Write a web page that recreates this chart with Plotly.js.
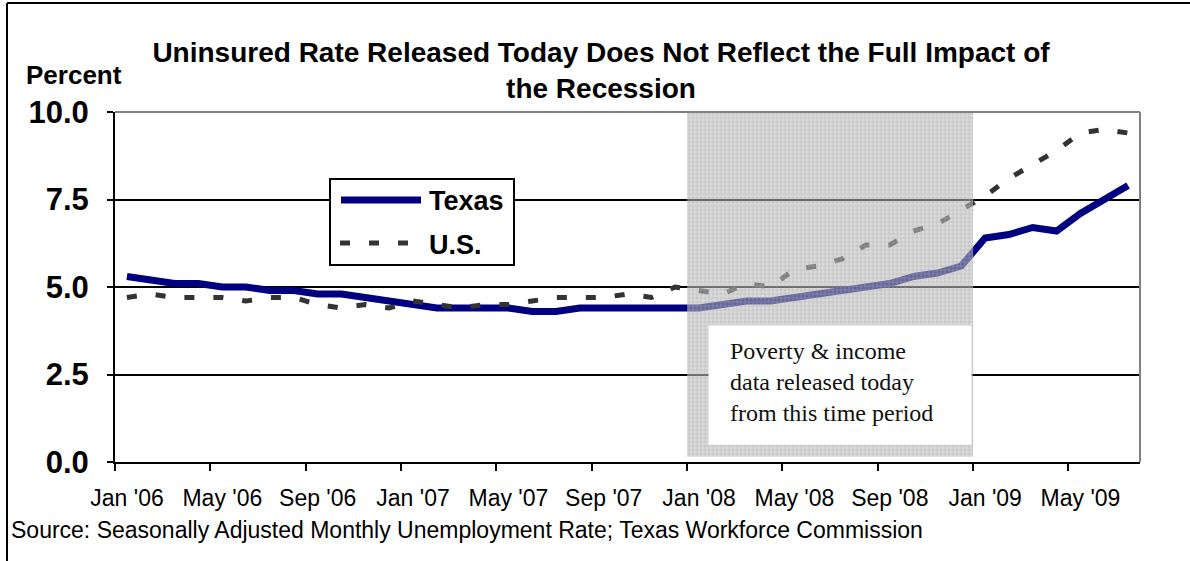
<!DOCTYPE html>
<html>
<head>
<meta charset="utf-8">
<script src="https://cdn.plot.ly/plotly-3.0.1.min.js"></script>
<style>
  html, body { margin: 0; padding: 0; background: #ffffff; }
  #chart { width: 1190px; height: 561px; }
</style>
</head>
<body>
<div id="chart"></div>
<script>
// Monthly categories, Jan 2006 through Jul 2009
const months = [
  "Jan '06", "Feb '06", "Mar '06", "Apr '06", "May '06", "Jun '06",
  "Jul '06", "Aug '06", "Sep '06", "Oct '06", "Nov '06", "Dec '06",
  "Jan '07", "Feb '07", "Mar '07", "Apr '07", "May '07", "Jun '07",
  "Jul '07", "Aug '07", "Sep '07", "Oct '07", "Nov '07", "Dec '07",
  "Jan '08", "Feb '08", "Mar '08", "Apr '08", "May '08", "Jun '08",
  "Jul '08", "Aug '08", "Sep '08", "Oct '08", "Nov '08", "Dec '08",
  "Jan '09", "Feb '09", "Mar '09", "Apr '09", "May '09", "Jun '09",
  "Jul '09"
];

// Seasonally adjusted unemployment rate, percent
const texasRate = [
  5.3, 5.2, 5.1, 5.1, 5.0, 5.0, 4.9, 4.9, 4.8, 4.8, 4.7, 4.6,
  4.5, 4.4, 4.4, 4.4, 4.4, 4.3, 4.3, 4.4, 4.4, 4.4, 4.4, 4.4,
  4.4, 4.5, 4.6, 4.6, 4.7, 4.8, 4.9, 5.0, 5.1, 5.3, 5.4, 5.6,
  6.4, 6.5, 6.7, 6.6, 7.1, 7.5, 7.9
];
const usRate = [
  4.7, 4.8, 4.7, 4.7, 4.7, 4.6, 4.7, 4.7, 4.5, 4.4, 4.5, 4.4,
  4.6, 4.5, 4.4, 4.5, 4.5, 4.6, 4.7, 4.7, 4.7, 4.8, 4.7, 5.0,
  4.9, 4.8, 5.1, 5.0, 5.5, 5.6, 5.8, 6.2, 6.2, 6.6, 6.8, 7.2,
  7.6, 8.1, 8.5, 8.9, 9.4, 9.5, 9.4
];

const seriesNames = ["Texas", "U.S."];
const xTickLabels = ["Jan '06", "May '06", "Sep '06", "Jan '07", "May '07", "Sep '07",
                     "Jan '08", "May '08", "Sep '08", "Jan '09", "May '09"];
const yTickValues = [0, 2.5, 5.0, 7.5, 10.0];

// Period covered by the newly released poverty & income data
const highlightMonths = ["Jan '08", "Dec '08"];
const noteLines = ["Poverty & income", "data released today", "from this time period"];

const chartTitle = ["Uninsured Rate Released Today Does Not Reflect the Full Impact of", "the Recession"];
const yLabel = "Percent";
const sourceNote = "Source: Seasonally Adjusted Monthly Unemployment Rate; Texas Workforce Commission";

// ---- geometry of the plotting area (pixels) ----
const W = 1190, H = 561;
const L = 115, R = 1140, T = 112, B = 462;
const px2x = p => (p - L) / (R - L);   // pixel -> paper x
const py2y = p => (B - p) / (B - T);   // pixel -> paper y

const SANS = "Liberation Sans, Arial, Helvetica, sans-serif";
const SERIF = "Liberation Serif, Times New Roman, serif";

const idx = months.map((m, i) => i);
const texasStyle = { color: "#000080", width: 7 };
const usStyle = { color: "#333333", width: 5, dash: "10px,19px" };

const hiStart = months.indexOf(highlightMonths[0]) - 0.5;
const hiEnd = months.indexOf(highlightMonths[1]) + 0.5;
const hiBottom = 0.15, hiTop = 10.0;

const traces = [
  {
    x: idx, y: texasRate, name: seriesNames[0], type: "scatter", mode: "lines",
    line: Object.assign({ shape: "linear" }, texasStyle),
    text: months, hovertemplate: "%{text}: %{y:.1f}%<extra>Texas</extra>"
  },
  {
    x: idx, y: usRate, name: seriesNames[1], type: "scatter", mode: "lines",
    line: Object.assign({ shape: "linear" }, usStyle),
    text: months, hovertemplate: "%{text}: %{y:.1f}%<extra>U.S.</extra>"
  },
  // hatched band over the release period, drawn on top of the lines
  {
    x: [hiStart, hiEnd, hiEnd, hiStart, hiStart],
    y: [hiBottom, hiBottom, hiTop, hiTop, hiBottom],
    type: "scatter", mode: "none", fill: "toself",
    fillcolor: "rgba(185,185,185,0.55)",
    fillpattern: { shape: "+", size: 4, solidity: 0.3,
                   fgcolor: "#a8a8a8", fgopacity: 0.55,
                   bgcolor: "rgba(186,186,186,0.55)" },
    hoverinfo: "skip", showlegend: false
  }
];

const shapes = [
  // outer frame (left and top edges)
  { type: "line", xref: "paper", yref: "paper",
    x0: px2x(7), x1: px2x(7), y0: py2y(3), y1: py2y(H + 5),
    line: { color: "#000000", width: 2 } },
  { type: "line", xref: "paper", yref: "paper",
    x0: px2x(7), x1: px2x(W + 5), y0: py2y(3), y1: py2y(3),
    line: { color: "#000000", width: 2 } },
  // note box inside the band
  { type: "rect", xref: "x", yref: "y", layer: "above",
    x0: hiStart + 0.9, x1: hiEnd - 0.07, y0: 0.49, y1: 3.9,
    fillcolor: "#ffffff", line: { width: 0 } },
  // plot area border (top and right in grey)
  { type: "line", xref: "paper", yref: "paper", layer: "above",
    x0: 0, x1: 1, y0: 1, y1: 1, line: { color: "#808080", width: 2 } },
  { type: "line", xref: "paper", yref: "paper", layer: "above",
    x0: 1, x1: 1, y0: 0, y1: 1, line: { color: "#808080", width: 2 } },
  // legend box
  { type: "rect", xref: "paper", yref: "paper", layer: "above",
    x0: px2x(330), x1: px2x(514), y0: py2y(179), y1: py2y(265),
    fillcolor: "#ffffff", line: { color: "#000000", width: 2 } },
  // legend samples
  { type: "line", xref: "paper", yref: "paper", layer: "above",
    x0: px2x(341), x1: px2x(421), y0: py2y(200), y1: py2y(200),
    line: texasStyle },
  { type: "line", xref: "paper", yref: "paper", layer: "above",
    x0: px2x(340), x1: px2x(425), y0: py2y(243), y1: py2y(243),
    line: usStyle }
];

const annotations = [
  { text: "<b>" + yLabel + "</b>", xref: "paper", yref: "paper",
    x: px2x(24), y: py2y(75), xanchor: "left", yanchor: "middle", showarrow: false,
    font: { family: SANS, size: 26, color: "#000000" } },
  { text: sourceNote, xref: "paper", yref: "paper",
    x: px2x(9), y: py2y(530), xanchor: "left", yanchor: "middle", showarrow: false,
    font: { family: SANS, size: 23, color: "#000000" } },
  { text: noteLines.join("<br>"), xref: "x", yref: "y", align: "left",
    x: hiStart + 1.7, y: 2.3, xanchor: "left", yanchor: "middle", showarrow: false,
    font: { family: SERIF, size: 24, color: "#111111" } },
  { text: "<b>" + seriesNames[0] + "</b>", xref: "paper", yref: "paper",
    x: px2x(427), y: py2y(201), xanchor: "left", yanchor: "middle", showarrow: false,
    font: { family: SANS, size: 27, color: "#000000" } },
  { text: "<b>" + seriesNames[1] + "</b>", xref: "paper", yref: "paper",
    x: px2x(427), y: py2y(245), xanchor: "left", yanchor: "middle", showarrow: false,
    font: { family: SANS, size: 27, color: "#000000" } }
];

const layout = {
  width: W, height: H,
  margin: { l: L, r: W - R, t: T, b: H - B, pad: 0 },
  paper_bgcolor: "#ffffff", plot_bgcolor: "#ffffff",
  showlegend: false,
  title: {
    text: "<b>" + chartTitle.join("<br>") + "</b>",
    xref: "container", yref: "container",
    x: 601 / W, xanchor: "center",
    y: 1 - 62 / H, yanchor: "middle",
    font: { family: SANS, size: 28, color: "#000000" }
  },
  xaxis: {
    range: [-0.5, months.length - 0.5],
    tickvals: xTickLabels.map(l => months.indexOf(l) - 0.5),
    ticktext: xTickLabels,
    ticklabelshift: 12,
    ticklabelstandoff: 7,
    ticks: "outside", ticklen: 7, tickwidth: 2, tickcolor: "#000000",
    showline: true, linecolor: "#000000", linewidth: 2,
    showgrid: false, zeroline: false,
    tickfont: { family: SANS, size: 23, color: "#000000" },
    fixedrange: true
  },
  yaxis: {
    range: [0, 10],
    tickvals: yTickValues,
    tickformat: ".1f",
    ticks: "outside", ticklen: 6, tickwidth: 2, tickcolor: "#000000",
    showline: true, linecolor: "#000000", linewidth: 2,
    showgrid: true, gridcolor: "#000000", gridwidth: 2,
    zeroline: false,
    tickfont: { family: SANS, size: 31, color: "#000000", weight: "bold" },
    ticklabelstandoff: 12,
    fixedrange: true
  },
  shapes: shapes,
  annotations: annotations
};

Plotly.newPlot("chart", traces, layout, { staticPlot: true, displayModeBar: false });
</script>
</body>
</html>
